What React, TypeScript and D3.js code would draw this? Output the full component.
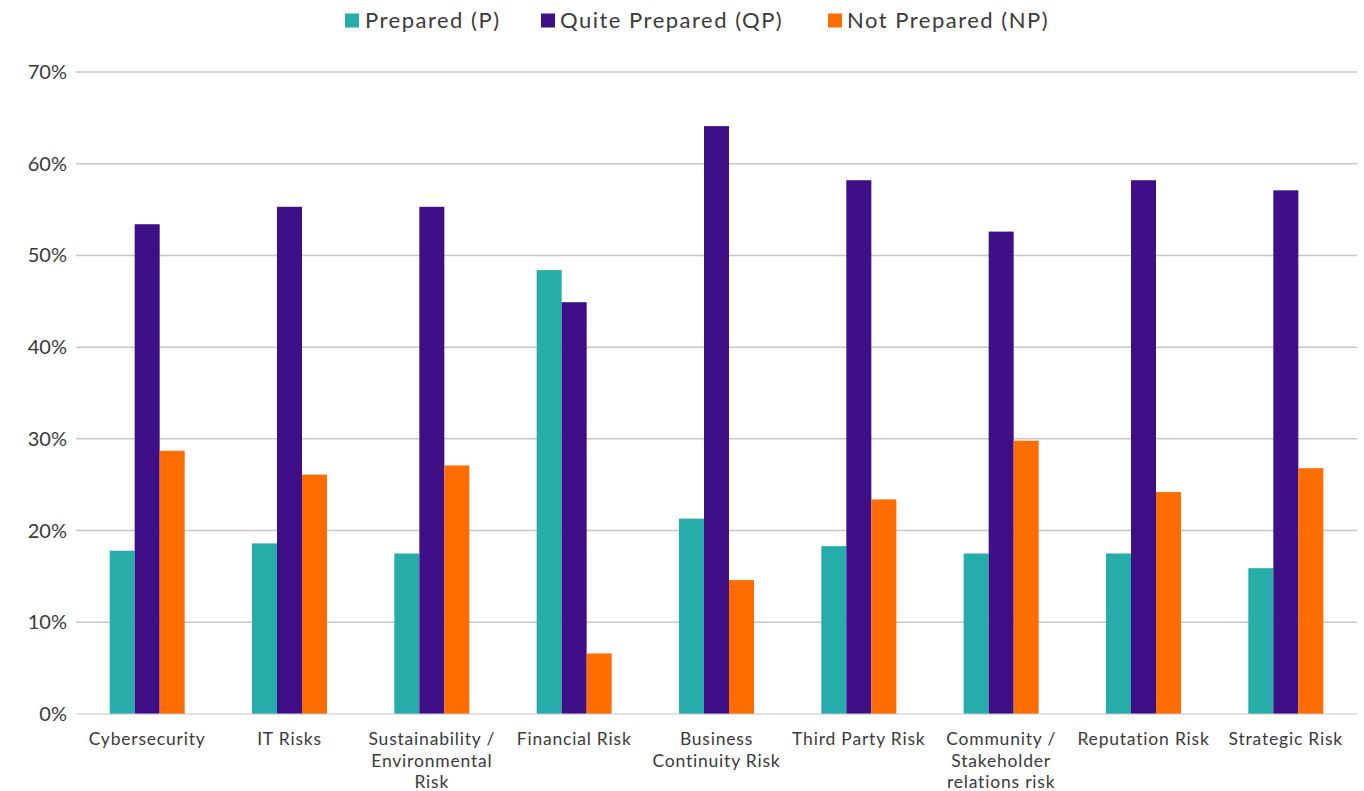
import React from "react";
import * as d3 from "d3";

const categories = [
  "Cybersecurity",
  "IT Risks",
  "Sustainability / Environmental Risk",
  "Financial Risk",
  "Business Continuity Risk",
  "Third Party Risk",
  "Community / Stakeholder relations risk",
  "Reputation Risk",
  "Strategic Risk",
];

const categoryLines = [
  ["Cybersecurity"],
  ["IT Risks"],
  ["Sustainability /", "Environmental", "Risk"],
  ["Financial Risk"],
  ["Business", "Continuity Risk"],
  ["Third Party Risk"],
  ["Community /", "Stakeholder", "relations risk"],
  ["Reputation Risk"],
  ["Strategic Risk"],
];

const seriesNames = ["Prepared (P)", "Quite Prepared (QP)", "Not Prepared (NP)"];
const seriesColors = ["#27ADA9", "#3E0F87", "#FF6D00"];

const prepared = [17.8, 18.6, 17.5, 48.4, 21.3, 18.3, 17.5, 17.5, 15.9];
const quitePrepared = [53.4, 55.3, 55.3, 44.9, 64.1, 58.2, 52.6, 58.2, 57.1];
const notPrepared = [28.7, 26.1, 27.1, 6.6, 14.6, 23.4, 29.8, 24.2, 26.8];

const yTicks = [0, 10, 20, 30, 40, 50, 60, 70];

const seriesValues = [prepared, quitePrepared, notPrepared];

const W = 1364;
const H = 791;
const margin = { left: 76, right: 7, top: 72, bottom: 77 };
const FONT = "Lato, 'Noto Sans', sans-serif";

export default function App() {
  const x = d3
    .scaleBand<string>()
    .domain(categories)
    .range([margin.left, W - margin.right])
    .paddingInner(0.473)
    .paddingOuter(0.2365);
  const inner = d3
    .scaleBand<number>()
    .domain([0, 1, 2])
    .range([0, x.bandwidth()]);
  const y = d3.scaleLinear().domain([0, 70]).range([H - margin.bottom, margin.top]);

  const legendItems = [
    { sx: 345, tx: 365 },
    { sx: 541, tx: 560 },
    { sx: 828, tx: 847 },
  ];

  return (
    <div style={{ position: "absolute", left: 0, top: 0 }}>
      <svg width={W} height={H} style={{ display: "block", background: "#fff" }}>
        {/* grid */}
        {yTicks.map((t) => (
          <g key={t}>
            {t > 0 && (
              <line
                x1={margin.left}
                x2={W - margin.right}
                y1={y(t)}
                y2={y(t)}
                stroke="#c7c5cf"
                strokeWidth={1.5}
              />
            )}
            <text
              x={67}
              y={y(t)}
              dy="0.35em"
              textAnchor="end"
              fontFamily={FONT}
              fontSize={20}
              fill="#3a3a3a"
            >
              {t}%
            </text>
          </g>
        ))}
        {/* bars */}
        {categories.map((c, i) => (
          <g key={c} transform={`translate(${x(c)},0)`}>
            {seriesValues.map((vals, s) => (
              <rect
                key={s}
                x={inner(s)}
                y={y(vals[i])}
                width={inner.bandwidth()}
                height={y(0) - y(vals[i])}
                fill={seriesColors[s]}
              />
            ))}
          </g>
        ))}
        {/* baseline */}
        <line
          x1={margin.left}
          x2={W - margin.right}
          y1={y(0)}
          y2={y(0)}
          stroke="#c7c5cf"
          strokeWidth={1}
        />
        {/* x labels */}
        {categories.map((c, i) => (
          <text
            key={c}
            x={(x(c) as number) + x.bandwidth() / 2}
            y={745}
            textAnchor="middle"
            fontFamily={FONT}
            fontSize={17.5}
            letterSpacing={0.8}
            fill="#3a3a3a"
          >
            {categoryLines[i].map((ln, k) => (
              <tspan key={k} x={(x(c) as number) + x.bandwidth() / 2} dy={k === 0 ? 0 : 21.5}>
                {ln}
              </tspan>
            ))}
          </text>
        ))}
        {/* legend */}
        {seriesNames.map((n, s) => (
          <g key={n}>
            <rect x={legendItems[s].sx} y={13.5} width={14} height={14} fill={seriesColors[s]} />
            <text
              x={legendItems[s].tx}
              y={28}
              fontFamily={FONT}
              fontSize={22}
              letterSpacing={1.5}
              fill="#3a3a3a"
            >
              {n}
            </text>
          </g>
        ))}
      </svg>
    </div>
  );
}
